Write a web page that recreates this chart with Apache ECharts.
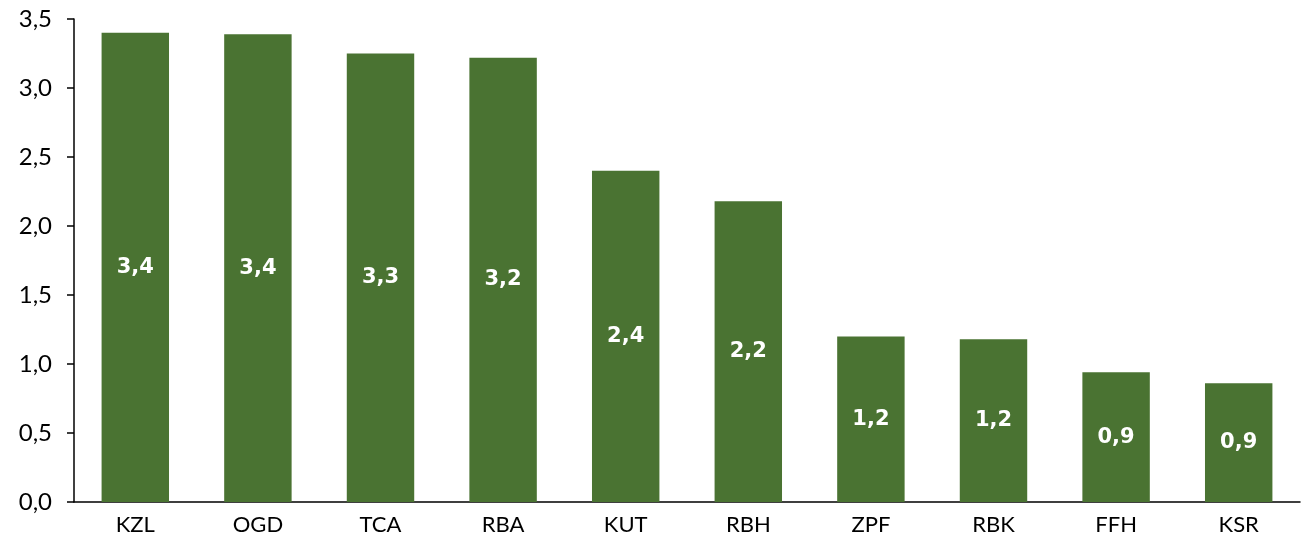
<!DOCTYPE html>
<html>
<head>
<meta charset="utf-8">
<script src="https://cdn.jsdelivr.net/npm/echarts@6/dist/echarts.min.js"></script>
<style>
  html, body { margin: 0; padding: 0; background: #fff; }
  #chart { width: 1308px; height: 544px; }
</style>
</head>
<body>
<div id="chart"></div>
<script>
// data
const categories = ['KZL', 'OGD', 'TCA', 'RBA', 'KUT', 'RBH', 'ZPF', 'RBK', 'FFH', 'KSR'];
const values = [3.40, 3.39, 3.25, 3.22, 2.40, 2.18, 1.20, 1.18, 0.94, 0.86];
const yTicks = { min: 0, max: 3.5, interval: 0.5 };

// decimal comma
const comma = v => v.toFixed(1).replace('.', ',');

const myChart = echarts.init(document.getElementById('chart'));
const option = {
    animation: false,
    grid: { left: 74, right: 8, top: 19, bottom: 42, containLabel: false },
    xAxis: {
        type: 'category',
        data: categories,
        axisLine: { lineStyle: { color: '#000', width: 1.5 } },
        axisTick: { show: false },
        axisLabel: { color: '#000', fontFamily: 'Lato, sans-serif', fontSize: 22, margin: 12 }
    },
    yAxis: {
        type: 'value',
        min: yTicks.min, max: yTicks.max, interval: yTicks.interval,
        splitLine: { show: false },
        axisLine: { show: true, lineStyle: { color: '#000', width: 1.5 } },
        axisTick: { show: true, length: 7, lineStyle: { color: '#000', width: 1.5 } },
        axisLabel: { color: '#000', fontFamily: 'Lato, sans-serif', fontSize: 24, margin: 22, formatter: comma }
    },
    series: [{
        type: 'bar',
        data: values,
        barWidth: '55%',
        itemStyle: { color: '#4a7332' },
        label: {
            show: true,
            position: 'inside',
            color: '#fff',
            fontFamily: 'DejaVu Sans, sans-serif',
            fontWeight: 'bold',
            fontSize: 21,
            formatter: p => comma(p.value)
        }
    }]
};
myChart.setOption(option);
</script>
</body>
</html>
